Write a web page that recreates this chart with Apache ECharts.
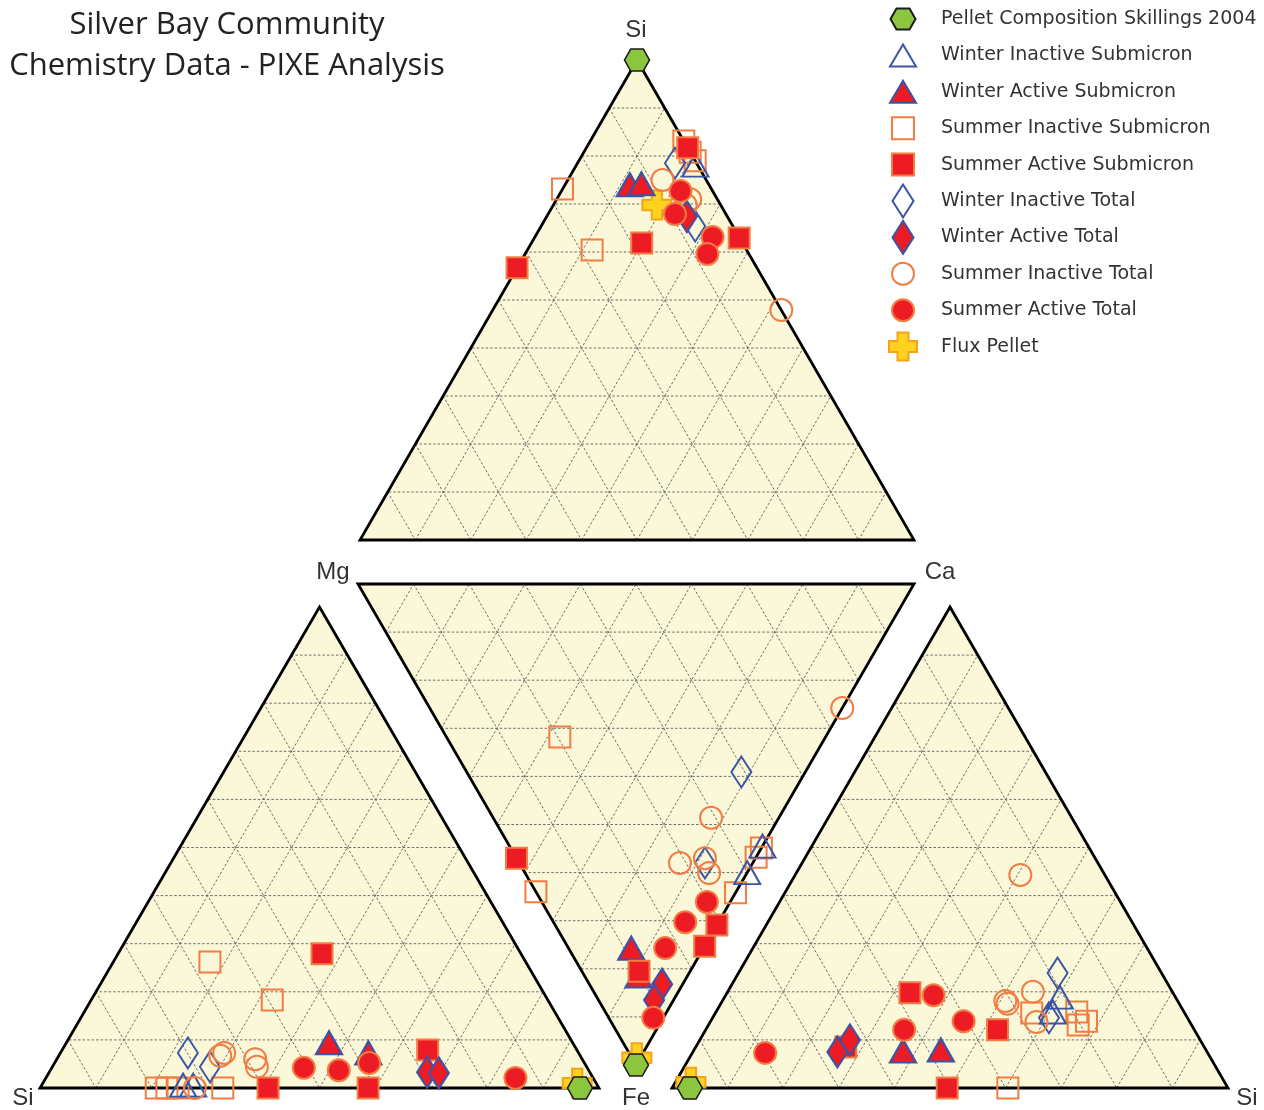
<!DOCTYPE html>
<html><head><meta charset="utf-8">
<script src="https://cdn.jsdelivr.net/npm/echarts@6/dist/echarts.min.js"></script>
<style>html,body{margin:0;padding:0;background:#fff}#c{width:1264px;height:1110px}</style>
</head><body><div id="c"></div>
<script>
// ---------------- DATA ----------------
const seriesNames = [
  'Pellet Composition Skillings 2004', 'Winter Inactive Submicron', 'Winter Active Submicron',
  'Summer Inactive Submicron', 'Summer Active Submicron', 'Winter Inactive Total',
  'Winter Active Total', 'Summer Inactive Total', 'Summer Active Total', 'Flux Pellet'
];
// Top panel: Si (apex) – Mg (left) – Ca (right).  [series, Si %, Ca %]  (Mg = rest)
const panelSiMgCa = [
  [0, 100, 0],
  [1, 78.1, 21.5],
  [2, 74.0, 11.7], [2, 74.2, 13.7],
  [3, 73.1, 0], [3, 60.4, 11.7], [3, 83.1, 16.9], [3, 80.8, 19.2], [3, 79.0, 21.0],
  [4, 81.7, 18.3], [4, 61.9, 19.9], [4, 62.9, 37.0], [4, 56.7, 0],
  [5, 78.5, 17.6], [5, 65.4, 27.8],
  [6, 67.4, 25.3],
  [7, 75.0, 17.1], [7, 71.0, 24.1], [7, 69.8, 23.9], [7, 47.9, 52.1],
  [8, 72.7, 21.5], [8, 67.9, 22.9], [8, 63.1, 32.1], [8, 59.6, 32.9],
  [9, 69.8, 18.7]
];
// Middle panel (inverted): Mg (top-left) – Ca (top-right) – Fe (bottom).  [series, Fe %, Ca %]
const panelMgCaFe = [
  [0, 100, 0],
  [1, 54.5, 45.5], [1, 60.0, 40.0],
  [2, 75.7, 11.3], [2, 81.5, 9.7],
  [3, 31.8, 20.4], [3, 64.0, 0], [3, 54.9, 45.1], [3, 56.8, 43.2], [3, 64.2, 35.8],
  [4, 57.0, 0], [4, 70.9, 29.1], [4, 75.3, 24.7], [4, 80.5, 10.3],
  [5, 39.1, 49.4], [5, 58.0, 33.4],
  [6, 83.2, 13.1], [6, 86.5, 10.0],
  [7, 25.8, 74.2], [7, 48.6, 39.2], [7, 58.0, 28.9], [7, 57.0, 33.9], [7, 60.1, 33.1],
  [8, 66.1, 29.7], [8, 70.3, 23.7], [8, 75.7, 17.4], [8, 90.2, 8.0],
  [9, 98.5, 0.9]
];
// Left panel: Mg (apex) – Si (left) – Fe (right).  [series, Mg %, Fe %]
const panelMgSiFe = [
  [0, 0, 96.6],
  [1, 0.6, 25.3], [1, 0.6, 27.1],
  [2, 9.4, 47.0], [2, 7.3, 55.1],
  [3, 26.2, 17.3], [3, 18.3, 32.4], [3, 0, 20.8], [3, 0, 22.7], [3, 0, 24.7], [3, 0, 32.7],
  [4, 27.9, 36.5], [4, 0, 40.8], [4, 0, 58.7], [4, 7.9, 65.4],
  [5, 7.3, 22.8], [5, 4.4, 28.2],
  [6, 3.3, 67.6], [6, 3.1, 69.8],
  [7, 7.3, 29.3], [7, 6.7, 28.9], [7, 6.0, 35.5], [7, 4.4, 36.6], [7, 0, 27.7],
  [8, 4.2, 45.1], [8, 3.7, 51.6], [8, 5.2, 56.3], [8, 2.1, 84.0],
  [9, 1.0, 95.6]
];
// Right panel: Ca (apex) – Fe (left) – Si (right).  [series, Ca %, Si %]
const panelCaFeSi = [
  [0, 0, 3.2],
  [1, 18.9, 60.3], [1, 15.8, 60.6],
  [2, 7.7, 37.7], [2, 7.9, 44.4],
  [3, 0, 60.4], [3, 15.6, 56.9], [3, 15.8, 64.9], [3, 13.1, 66.5], [3, 13.9, 67.6],
  [4, 8.5, 27.0], [4, 19.8, 32.9], [4, 12.1, 52.5], [4, 0, 49.5],
  [5, 23.9, 57.4], [5, 14.6, 60.5],
  [6, 7.5, 26.0], [6, 10.0, 27.0],
  [7, 44.3, 40.5], [7, 18.1, 50.9], [7, 17.5, 51.6], [7, 20.0, 54.9], [7, 13.7, 58.7],
  [8, 7.3, 13.1], [8, 19.3, 37.4], [8, 12.1, 35.7], [8, 13.9, 45.5],
  [9, 1.2, 2.8]
];
const gridTicks = [10, 20, 30, 40, 50, 60, 70, 80, 90];
const vertexLabels = [
  ['Si', 636, 30], ['Mg', 333, 572], ['Ca', 940, 572],
  ['Si', 23, 1098], ['Fe', 636, 1098], ['Si', 1247, 1098]
];
const titleLines = ['Silver Bay Community', 'Chemistry Data - PIXE Analysis'];

// ---------------- STYLE / LAYOUT ----------------
const RED = '#ed1c24', BLUE = '#3c54a5', ORANGE = '#f27d42', NONE = 'rgba(0,0,0,0)';
const FILL = '#faf8d9';
const HEX = 'path://M6,0L18,0L24,11L18,22L6,22L0,11Z';
const CROSS = 'path://M9,0H19V9H28V19H19V28H9V19H0V9H9Z';
const markStyles = [
  { symbol: HEX, size: [25, 22], color: '#8cc63f', border: '#1a1a1a', bw: 1.5, z: 12 },
  { symbol: 'triangle', size: [26, 23], color: NONE, border: BLUE, bw: 2, z: 5 },
  { symbol: 'triangle', size: [26, 23], color: RED, border: BLUE, bw: 2.2, z: 8 },
  { symbol: 'rect', size: 21, color: NONE, border: ORANGE, bw: 2, z: 4 },
  { symbol: 'rect', size: 21, color: RED, border: ORANGE, bw: 2, z: 9 },
  { symbol: 'diamond', size: [20, 31], color: NONE, border: BLUE, bw: 2, z: 6 },
  { symbol: 'diamond', size: [20, 31], color: RED, border: BLUE, bw: 2.2, z: 10 },
  { symbol: 'circle', size: 22, color: NONE, border: ORANGE, bw: 2, z: 7 },
  { symbol: 'circle', size: 22, color: RED, border: ORANGE, bw: 2, z: 11 },
  { symbol: CROSS, size: 29, color: '#ffd21f', border: '#f5a31a', bw: 2, z: 3 }
];
const PAD = 'path://M0,0M48,34';
const legendIcons = [
  PAD + 'M8.5,6.5L21.5,6.5L27.5,17L21.5,27.5L8.5,27.5L2.5,17Z',
  PAD + 'M15,6L28,28L2,28Z',
  PAD + 'M15,6L28,28L2,28Z',
  PAD + 'M4,6H26V28H4Z',
  PAD + 'M4,6H26V28H4Z',
  PAD + 'M15,0.5L25.5,17L15,33.5L4.5,17Z',
  PAD + 'M15,0.5L25.5,17L15,33.5L4.5,17Z',
  PAD + 'M4,17A11,11 0 1 0 26,17A11,11 0 1 0 4,17Z',
  PAD + 'M4,17A11,11 0 1 0 26,17A11,11 0 1 0 4,17Z',
  PAD + 'M9.5,3H20.5V11.5H29V22.5H20.5V31H9.5V22.5H1V11.5H9.5Z'
];

// panel: grid box and vertex positions (in axis units) for [comp A, comp B, rest]
const panels = [
  { grid: { left: 360, top: 60, width: 554, height: 480 }, data: panelSiMgCa, V: [[0.5, 1], [1, 0], [0, 0]] },
  { grid: { left: 358, top: 584, width: 556, height: 481 }, data: panelMgCaFe, V: [[0.5, 0], [1, 1], [0, 1]] },
  { grid: { left: 40, top: 607, width: 559, height: 481 }, data: panelMgSiFe, V: [[0.5, 1], [1, 0], [0, 0]] },
  { grid: { left: 672, top: 607, width: 556, height: 481 }, data: panelCaFeSi, V: [[0.5, 1], [1, 0], [0, 0]] }
];

function bary(V, w) {
  return [w[0] * V[0][0] + w[1] * V[1][0] + w[2] * V[2][0],
          w[0] * V[0][1] + w[1] * V[1][1] + w[2] * V[2][1]];
}

const series = [];
panels.forEach((P, pi) => {
  // triangle fill, ternary grid and border
  series.push({
    type: 'custom', xAxisIndex: pi, yAxisIndex: pi, silent: true, z: 1,
    data: [[0.5, 0.5]], encode: { x: 0, y: 1 },
    renderItem: (params, api) => {
      const pts = P.V.map(v => api.coord(v));
      const children = [{ type: 'polygon', shape: { points: pts }, style: { fill: FILL } }];
      gridTicks.forEach(t => {
        const k = t / 100;
        for (let i = 0; i < 3; i++) {
          const j = (i + 1) % 3, l = (i + 2) % 3;
          const w1 = [0, 0, 0], w2 = [0, 0, 0];
          w1[i] = k; w1[j] = 1 - k;
          w2[i] = k; w2[l] = 1 - k;
          const p1 = api.coord(bary(P.V, w1)), p2 = api.coord(bary(P.V, w2));
          children.push({ type: 'line', shape: { x1: p1[0], y1: p1[1], x2: p2[0], y2: p2[1] },
            style: { stroke: '#5e5e5e', lineWidth: 0.9, lineDash: [2.5, 2] } });
        }
      });
      children.push({ type: 'polygon', shape: { points: pts },
        style: { fill: 'none', stroke: '#000', lineWidth: 2.8, lineJoin: 'miter' } });
      return { type: 'group', children };
    }
  });
  // marker series
  seriesNames.forEach((name, si) => {
    const st = markStyles[si];
    const pts = P.data.filter(d => d[0] === si).map(d => {
      const a = d[1] / 100, b = d[2] / 100;
      return bary(P.V, [a, b, 1 - a - b]);
    });
    series.push({
      type: 'scatter', name, xAxisIndex: pi, yAxisIndex: pi, data: pts,
      symbol: st.symbol, symbolSize: st.size, symbolKeepAspect: false, z: st.z, silent: true,
      itemStyle: { color: st.color, borderColor: st.border, borderWidth: st.bw, opacity: 1 },
      emphasis: { disabled: true }
    });
  });
});

const graphic = [];
titleLines.forEach((t, i) => graphic.push({
  type: 'text', x: 227, y: 25 + i * 41,
  style: { text: t, font: '31px "Open Sans"', fill: '#222', align: 'center', verticalAlign: 'middle' }
}));
vertexLabels.forEach(v => graphic.push({
  type: 'text', x: v[1], y: v[2],
  style: { text: v[0], font: '24px "Liberation Sans", Arial', fill: '#333', align: 'center', verticalAlign: 'middle' }
}));

const option = {
  animation: false,
  backgroundColor: '#fff',
  grid: panels.map(P => Object.assign({ outerBoundsMode: 'none', containLabel: false }, P.grid)),
  xAxis: panels.map((P, i) => ({ type: 'value', gridIndex: i, min: 0, max: 1, show: false })),
  yAxis: panels.map((P, i) => ({ type: 'value', gridIndex: i, min: 0, max: 1, show: false })),
  legend: {
    orient: 'vertical', left: 887, top: 1, padding: 0, itemWidth: 48, itemHeight: 34, itemGap: 0.4,
    selectedMode: false, symbolKeepAspect: true,
    textStyle: { fontSize: 19, color: '#333', fontFamily: '"DejaVu Sans", Verdana' },
    data: seriesNames.map((n, i) => ({ name: n, icon: legendIcons[i] }))
  },
  graphic,
  series
};
echarts.init(document.getElementById('c'), null, { renderer: 'canvas' }).setOption(option);
</script>
</body></html>
